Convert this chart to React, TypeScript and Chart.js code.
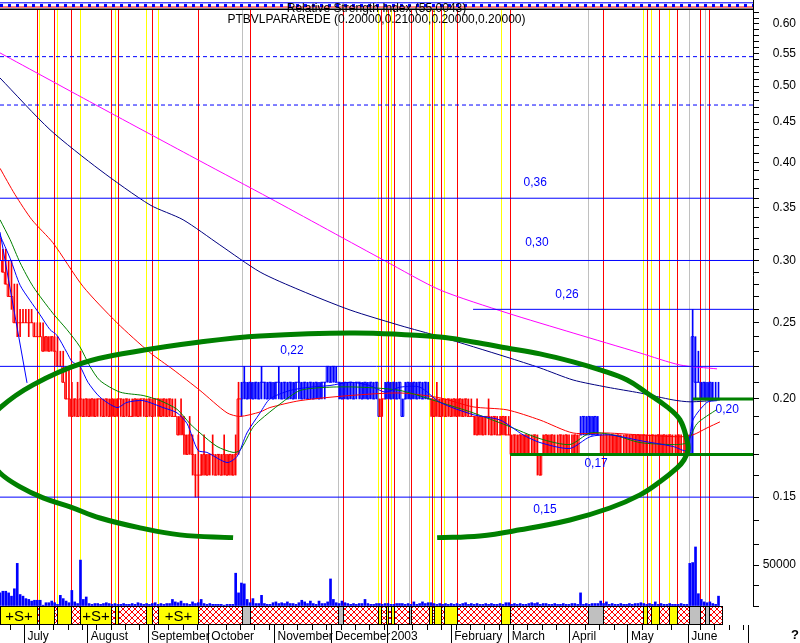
import React, { useEffect, useRef } from 'react';
import { Chart, registerables } from 'chart.js';

Chart.register(...registerables);

const FONT = "'Liberation Sans', Arial, Helvetica, sans-serif";
const RED = '#FF0000';
const BLUE = '#0000FF';
const YELLOW = '#FFFF00';
const GRAY = '#C0C0C0';
const GREEN = '#008000';
const NAVY = '#000080';
const MAGENTA = '#FF00FF';

const X_MAX = 262;

// month starts on the trading-day axis
const monthDays = [8.5, 30.5, 51.5, 72.5, 95.5, 115.5, 135, 157, 177, 198, 218.5, 239.5, 260.5];
const monthLabels = ['July', 'August', 'September', 'October', 'November', 'December', '2003', 'February', 'March', 'April', 'May', 'June', ''];

// daily price bars, in cents
const priceHighC = [
  32, 31, 31, 30, 30, 28, 28, 26, 26, 26,
  26, 26, 25, 25, 25, 25, 24, 24, 24, 24,
  24, 23, 23, 22, 22, 21, 20, 21, 23, 20,
  20, 20, 20, 20, 20, 20, 20, 20, 20, 20,
  20, 20, 20, 20, 20, 20, 20, 20, 20, 20,
  20, 20, 20, 20, 20, 20, 20, 20, 20, 20,
  20, 20, 19, 20, 19, 18, 19, 18, 17, 18,
  17, 18, 17, 17, 18, 17, 17, 17, 18, 17,
  17, 17, 18, 21, 21, 22, 21, 21, 21, 21,
  21, 22, 21, 21, 21, 21, 21, 22, 21, 21,
  21, 21, 21, 21, 22, 21, 21, 21, 21, 21,
  21, 21, 21, 21, 22, 22, 22, 22, 21, 21,
  21, 21, 21, 21, 21, 21, 21, 21, 21, 21,
  21, 21, 20, 20, 21, 21, 21, 21, 21, 21,
  20, 21, 21, 21, 21, 21, 21, 21, 21, 21,
  20, 20, 21, 20, 20, 20, 20, 20, 20, 20,
  20, 20, 20, 20, 20, 19, 20, 19, 19, 19,
  20, 19, 19, 19, 19, 19, 19, 19, 18, 18,
  18, 18, 18, 18, 18, 18, 18, 18, 17, 18,
  18, 18, 18, 18, 18, 18, 18, 18, 18, 18,
  18, 18, 19, 19, 19, 19, 19, 19, 19, 18,
  18, 18, 18, 18, 18, 18, 18, 18, 18, 18,
  18, 18, 18, 18, 18, 18, 18, 18, 18, 18,
  18, 18, 18, 18, 18, 18, 18, 18, 18, 18,
  18, 26, 24, 23, 21, 21, 21, 21, 21, 21, 21,
];
const priceLowC = [
  30, 29, 28, 27, 26, 25, 24, 24, 25, 25,
  24, 25, 24, 24, 24, 23, 23, 23, 23, 23,
  22, 22, 21, 20, 19, 19, 19, 19, 19, 19,
  19, 19, 19, 19, 19, 19, 19, 19, 19, 19,
  19, 19, 19, 19, 19, 19, 19, 19, 19, 19,
  19, 19, 19, 19, 19, 19, 19, 19, 19, 19,
  19, 19, 18, 18, 17, 17, 17, 16, 15, 15,
  16, 16, 16, 16, 16, 16, 16, 16, 16, 16,
  16, 16, 16, 17, 19, 20, 20, 20, 20, 20,
  20, 20, 20, 20, 20, 20, 20, 20, 20, 20,
  20, 20, 20, 20, 20, 20, 20, 20, 20, 20,
  20, 20, 20, 20, 21, 21, 21, 21, 20, 20,
  20, 20, 20, 20, 20, 20, 20, 20, 20, 20,
  20, 20, 19, 19, 20, 20, 20, 20, 20, 20,
  19, 20, 20, 20, 20, 20, 20, 20, 20, 20,
  19, 19, 19, 19, 19, 19, 19, 19, 19, 19,
  19, 19, 19, 19, 19, 18, 18, 18, 18, 18,
  18, 18, 18, 18, 18, 18, 18, 18, 17, 17,
  17, 17, 17, 17, 17, 17, 17, 16, 16, 17,
  17, 17, 17, 17, 17, 17, 17, 17, 17, 17,
  17, 17, 18, 18, 18, 18, 18, 18, 18, 17,
  17, 17, 17, 17, 17, 17, 17, 17, 17, 17,
  17, 17, 17, 17, 17, 17, 17, 17, 17, 17,
  17, 17, 17, 17, 17, 17, 17, 17, 17, 17,
  17, 17, 20, 21, 20, 20, 20, 20, 20, 20, 20,
];
const priceCloseC = [
  30, 29, 28, 27, 27, 25, 25, 25, 25, 25,
  25, 25, 24, 24, 24, 23, 24, 23, 24, 23,
  22, 22, 21, 20, 20, 19, 20, 19, 20, 19,
  20, 19, 20, 19, 20, 20, 19, 20, 19, 20,
  19, 20, 20, 19, 20, 19, 19, 20, 19, 20,
  20, 19, 20, 19, 20, 20, 19, 20, 19, 20,
  19, 19, 18, 19, 18, 17, 18, 17, 16, 16,
  16, 17, 16, 17, 17, 16, 17, 16, 17, 16,
  17, 16, 17, 20, 20, 21, 20, 21, 20, 21,
  20, 21, 21, 20, 21, 20, 21, 21, 20, 21,
  20, 21, 20, 21, 21, 20, 21, 20, 21, 20,
  21, 20, 21, 21, 22, 21, 22, 21, 21, 20,
  21, 20, 21, 20, 21, 21, 20, 21, 20, 21,
  20, 21, 19, 20, 20, 21, 20, 21, 20, 21,
  19, 20, 21, 20, 21, 20, 21, 20, 21, 20,
  20, 19, 20, 19, 20, 19, 20, 19, 20, 19,
  20, 19, 20, 19, 19, 19, 18, 19, 18, 19,
  19, 18, 19, 18, 18, 19, 18, 18, 17, 18,
  17, 18, 17, 18, 17, 17, 18, 17, 16, 17,
  18, 17, 18, 17, 17, 18, 17, 18, 17, 17,
  18, 17, 18, 19, 18, 19, 18, 19, 18, 18,
  17, 18, 17, 18, 17, 18, 17, 17, 18, 17,
  18, 17, 18, 17, 18, 17, 17, 18, 17, 18,
  17, 18, 17, 18, 17, 17, 18, 17, 17, 18,
  17, 24, 21, 21, 20, 21, 20, 21, 20, 20, 20,
];
// runs of days where bars are drawn blue
const upRunStart = [84, 134, 202, 240];
const upRunEnd = [131, 149, 208, 250];

// daily volume, thousands of shares
const volumeK = [
  16, 18, 18, 16, 12, 21, 52, 14, 12, 9,
  8, 6, 7, 7, 7, 1, 4, 4, 6, 4,
  2, 13, 9, 6, 4, 19, 5, 3, 56, 8,
  11, 3, 2, 3, 3, 2, 3, 4, 3, 2,
  3, 2, 2, 3, 2, 2, 3, 2, 4, 3,
  2, 3, 2, 3, 4, 2, 3, 2, 3, 3,
  8, 5, 4, 6, 3, 3, 2, 5, 3, 4,
  8, 3, 2, 3, 2, 2, 2, 2, 1, 2,
  2, 2, 40, 16, 28, 27, 8, 4, 9, 3,
  3, 13, 3, 2, 2, 4, 5, 3, 4, 3,
  5, 3, 3, 2, 4, 7, 5, 3, 6, 3,
  2, 6, 3, 3, 5, 33, 8, 4, 3, 6,
  4, 3, 2, 3, 2, 3, 3, 8, 3, 2,
  2, 3, 3, 2, 3, 3, 2, 2, 3, 3,
  3, 2, 3, 2, 5, 2, 3, 5, 3, 4,
  4, 3, 2, 3, 2, 3, 2, 3, 2, 3,
  2, 3, 4, 2, 3, 2, 3, 2, 2, 3,
  2, 3, 2, 2, 3, 2, 4, 4, 2, 3,
  2, 3, 2, 2, 3, 4, 3, 4, 2, 3,
  3, 2, 2, 3, 2, 2, 3, 2, 2, 3,
  3, 2, 16, 2, 3, 2, 3, 3, 3, 6,
  3, 5, 2, 3, 2, 2, 3, 2, 2, 3,
  2, 3, 3, 4, 3, 2, 3, 2, 5, 2,
  3, 2, 2, 3, 2, 2, 2, 3, 2, 2,
  52, 53, 72, 15, 8, 5, 4, 5, 3, 2, 12,
];

// moving averages (day, price)
const maShortDays = [0, 3.5, 7, 10.4, 13.9, 17.4, 19.8, 23.3, 25.1, 27.8, 30.6, 34.8, 40.7, 44.2, 49.8, 56.7, 61.6, 65.1, 68.9, 72, 79, 82.5, 85.9, 90.5, 93.9, 100.9, 107.9, 114.8, 121.8, 128.7, 134, 139.2, 146.1, 153.1, 164.6, 174, 182, 187.9, 198.3, 205.3, 212.2, 222.7, 234.2, 239, 241.1, 246, 249.5];
const maShortVals = [0.323, 0.302, 0.279, 0.267, 0.256, 0.245, 0.241, 0.229, 0.223, 0.220, 0.210, 0.201, 0.195, 0.198, 0.199, 0.195, 0.192, 0.186, 0.172, 0.171, 0.166, 0.169, 0.181, 0.192, 0.200, 0.205, 0.207, 0.208, 0.210, 0.208, 0.204, 0.207, 0.207, 0.198, 0.191, 0.188, 0.180, 0.176, 0.173, 0.179, 0.180, 0.177, 0.174, 0.172, 0.188, 0.198, 0.199];
const maMidDays = [0, 3.5, 7, 11.5, 18.4, 23.3, 27.8, 31.3, 34.8, 41.8, 49.8, 55.7, 61.6, 66.1, 69.6, 75.5, 81.1, 83.5, 88, 90.5, 97.4, 104.4, 114.8, 125.3, 139.2, 153.1, 164.6, 176.4, 187.9, 198.3, 205.3, 213.3, 222.7, 234.2, 239, 242.5, 249.5];
const maMidVals = [0.338, 0.319, 0.298, 0.278, 0.257, 0.245, 0.233, 0.220, 0.211, 0.204, 0.202, 0.199, 0.194, 0.186, 0.181, 0.174, 0.171, 0.172, 0.184, 0.188, 0.197, 0.205, 0.207, 0.207, 0.205, 0.198, 0.192, 0.185, 0.178, 0.175, 0.181, 0.180, 0.176, 0.175, 0.176, 0.186, 0.194];
const maLongDays = [0, 5.2, 11.1, 18.4, 28.9, 40.7, 52.2, 60.2, 69.6, 79, 83.5, 90.5, 93.9, 104.4, 121.8, 139.2, 153.1, 164.6, 176.4, 187.9, 199.4, 211.2, 222.7, 236.6, 241.1, 246, 250.5];
const maLongVals = [0.393, 0.364, 0.338, 0.316, 0.278, 0.250, 0.229, 0.218, 0.205, 0.192, 0.190, 0.1925, 0.195, 0.199, 0.202, 0.2035, 0.2006, 0.1954, 0.1937, 0.188, 0.181, 0.181, 0.180, 0.179, 0.180, 0.1837, 0.187];
const navyDays = [0, 17.4, 34.8, 52.2, 63.7, 76.5, 90.5, 104.4, 121.8, 139.2, 153.1, 176.4, 187.9, 199.4, 211.2, 222.7, 234.2, 240.1, 250.5];
const navyVals = [0.512, 0.440, 0.391, 0.353, 0.338, 0.314, 0.290, 0.275, 0.2595, 0.248, 0.240, 0.226, 0.219, 0.2114, 0.207, 0.2035, 0.1994, 0.1983, 0.1994];
const magentaDays = [0, 34.8, 69.6, 93.9, 134, 153.1, 176.4, 199.4, 222.7, 236.6, 249.5];
const magentaVals = [0.551, 0.470, 0.4015, 0.360, 0.2996, 0.2752, 0.2573, 0.2426, 0.2288, 0.2209, 0.2184];
const trendDays = [0, 9.4];
const trendVals = [0.326, 0.2096];

// hand-drawn green ellipse (day, price)
const ellipseUpperDays = [-10, 0, 11.5, 28.9, 46.3, 69.6, 90.5, 123.5, 153.1, 164.6, 176.4, 187.9, 199.4, 208.8, 218.2, 225.1, 232.1, 236.6, 239.0, 239.4, 238.0, 235.6, 229.6, 222.7, 212.2, 198.3, 180.9, 167.0, 152.1];
const ellipseUpperVals = [0.1774, 0.1948, 0.2084, 0.2222, 0.2295, 0.2363, 0.2405, 0.2426, 0.2398, 0.2363, 0.2322, 0.2282, 0.2229, 0.2177, 0.2114, 0.2035, 0.1954, 0.1881, 0.1774, 0.1723, 0.1673, 0.1634, 0.1569, 0.1510, 0.1453, 0.1403, 0.1363, 0.1339, 0.1332];
const ellipseLowerDays = [-10, 0, 7, 15, 24.4, 34.8, 48.7, 62.6, 81.1];
const ellipseLowerVals = [0.1774, 0.1610, 0.1546, 0.1497, 0.1458, 0.1411, 0.1371, 0.1343, 0.1332];

// horizontal levels
const blueLevels = [0.36, 0.30, 0.26, 0.22, 0.15];
const blueLevelFrom = [0, 0, 164.6, 0, 0];
const greenLevels = [0.20, 0.17];
const greenLevelFrom = [241, 177.5];
const dashedLevels = [0.545, 0.473];

const levelLabelText = ['0,36', '0,30', '0,26', '0,22', '0,20', '0,17', '0,15'];
const levelLabelDay = [186.2, 186.8, 197.3, 101.6, 253, 207.4, 189.6];
const levelLabelPrice = [0.3765, 0.3158, 0.2712, 0.2302, 0.1937, 0.1653, 0.1445];

// RSI strip levels
const rsiLevels = [72, 45, 30, 6];

// event markers (trading-day positions)
const redLines = [13, 18.9, 24.8, 38.7, 41.2, 53, 69, 87.1, 119.5, 132.5, 134.9, 137.2, 143, 150.3, 153.4, 159.1, 177.6, 209.9, 225, 229.4, 235.7, 243.6, 246.8];
const yellowLines = [13.7, 19.9, 27.9, 40.1, 50.9, 55.1, 131.4, 134.3, 136.2, 149.4, 151, 154.6, 174.4, 223.8, 226.6, 232.9];
const grayLines = [84.3, 117.5, 142.4, 204.7, 239.8, 245.2];

// signal band
const bandEdges = [0, 13, 13.7, 18.9, 19.9, 24.8, 27.9, 38.7, 40.1, 41.2, 50.9, 53, 55.1, 69, 84.3, 87.1, 117.5, 119.5, 131.4, 132.5, 134.3, 134.9, 136.2, 137.2, 142.4, 143, 149.4, 150.3, 151, 153.4, 154.6, 159.1, 174.4, 177.6, 204.7, 209.9, 223.8, 225, 226.6, 229.4, 232.9, 235.7, 239.8, 243.6, 245.2, 246.8, 251.3];
const bandKinds = 'SXYXYXSXYXYXSXGXGXYXYXYXGXYXYXYXYXGXYXYXYXGXGX';

const titleRsi = 'Relative Strength Index (55.0043)';
const titleMain = 'PTBVLPARAREDE (0.20000,0.21000,0.20000,0.20000)';

const priceTicks = [0.14, 0.15, 0.16, 0.17, 0.18, 0.19, 0.20, 0.21, 0.22, 0.23, 0.24, 0.25, 0.26, 0.27, 0.28, 0.29, 0.30, 0.31, 0.32, 0.33, 0.34, 0.35, 0.36, 0.37, 0.38, 0.39, 0.40, 0.41, 0.42, 0.43, 0.44, 0.45, 0.46, 0.47, 0.48, 0.49, 0.50, 0.51, 0.52, 0.53, 0.54, 0.55, 0.56, 0.57, 0.58, 0.59, 0.60, 0.61, 0.62];
const volumeTicks = [0, 25000, 50000, 75000];

function makeHatch(): CanvasPattern | string {
  const c = document.createElement('canvas');
  c.width = 6;
  c.height = 6;
  const p = c.getContext('2d');
  if (!p) return '#fff';
  p.fillStyle = '#FFFFFF';
  p.fillRect(0, 0, 6, 6);
  p.strokeStyle = RED;
  p.lineWidth = 1;
  p.beginPath();
  p.moveTo(0, 0);
  p.lineTo(6, 6);
  p.moveTo(6, 0);
  p.lineTo(0, 6);
  p.stroke();
  return p.createPattern(c, 'repeat') || '#fff';
}

export default function App() {
  const ref = useRef<HTMLCanvasElement>(null);

  useEffect(() => {
    const canvas = ref.current;
    if (!canvas) return;
    const hatch = makeHatch();
    const days = priceHighC.map((_, i) => i);
    const isUp = (i: number) => upRunStart.some((s, k) => i >= s && i <= upRunEnd[k]);
    const barColors = days.map((i) => (isUp(i) ? BLUE : RED));
    const pts = (xs: number[], ys: number[]) => xs.map((x, i) => ({ x, y: ys[i] }));
    const line = (label: string, data: any[], color: string, width: number, extra: any = {}) => ({
      type: 'line', label, data, borderColor: color, backgroundColor: color, borderWidth: width,
      pointRadius: 0, fill: false, xAxisID: 'x', yAxisID: 'yP', ...extra,
    });

    const datasets: any[] = [
      line('ellipseUpper', pts(ellipseUpperDays, ellipseUpperVals), GREEN, 5, { tension: 0.4 }),
      line('ellipseLower', pts(ellipseLowerDays, ellipseLowerVals), GREEN, 5, { tension: 0.4 }),
      ...greenLevels.map((v, i) => line('green' + i, [{ x: greenLevelFrom[i], y: v }, { x: X_MAX, y: v }], GREEN, 3)),
      ...blueLevels.map((v, i) => line('blue' + i, [{ x: blueLevelFrom[i], y: v }, { x: X_MAX, y: v }], BLUE, 1)),
      ...dashedLevels.map((v, i) => line('dash' + i, [{ x: 0, y: v }, { x: X_MAX, y: v }], BLUE, 1, { borderDash: [4, 3] })),
      line('maShort', pts(maShortDays, maShortVals), BLUE, 1, { tension: 0.25 }),
      line('trend', pts(trendDays, trendVals), BLUE, 1),
      line('maMid', pts(maMidDays, maMidVals), GREEN, 1, { tension: 0.25 }),
      line('maLong', pts(maLongDays, maLongVals), RED, 1, { tension: 0.25 }),
      line('maNavy', pts(navyDays, navyVals), NAVY, 1, { tension: 0.25 }),
      line('maMagenta', pts(magentaDays, magentaVals), MAGENTA, 1, { tension: 0.25 }),
      line('close', days.map((d) => ({ x: d, y: priceCloseC[d] / 100 })), RED, 1, {
        stepped: 'middle',
        segment: { borderColor: (c: any) => barColors[c.p0DataIndex] },
      }),
      {
        type: 'bar', label: 'range', xAxisID: 'x', yAxisID: 'yP', grouped: false,
        data: days.map((d) => ({ x: d, y: [priceLowC[d] / 100, priceHighC[d] / 100] })),
        backgroundColor: barColors, borderWidth: 0, barThickness: 1,
      },
      {
        type: 'bar', label: 'volume', xAxisID: 'x', yAxisID: 'yV', grouped: false,
        data: days.map((d) => ({ x: d, y: volumeK[d] * 1000 })),
        backgroundColor: BLUE, borderWidth: 0, barThickness: 2,
      },
      ...rsiLevels.map((v, i) => ({
        type: 'line', label: 'rsi' + i, xAxisID: 'x', yAxisID: 'yR', pointRadius: 0,
        data: [{ x: 0, y: v }, { x: X_MAX, y: v }],
        borderColor: i === 2 ? RED : i === 3 ? '#000000' : BLUE,
        borderWidth: i === 1 ? 3 : i === 3 ? 2 : 1,
        borderDash: i === 1 ? [3, 5] : [],
      })),
    ];

    const decor = {
      id: 'decor',
      beforeDatasetsDraw(chart: any) {
        const { ctx, scales } = chart;
        const xs = scales.x, yP = scales.yP, yV = scales.yV, yB = scales.yB;
        ctx.save();
        const vline = (arr: number[], color: string) => {
          ctx.strokeStyle = color;
          ctx.lineWidth = 1;
          arr.forEach((d) => {
            const px = Math.round(xs.getPixelForValue(d)) + 0.5;
            ctx.beginPath();
            ctx.moveTo(px, yP.top);
            ctx.lineTo(px, yV.bottom);
            ctx.stroke();
          });
        };
        vline(grayLines, GRAY);
        vline(yellowLines, YELLOW);
        vline(redLines, RED);
        // signal band
        const top = Math.round(yB.top) + 0.5;
        const bot = Math.round(yB.bottom) - 0.5;
        for (let i = 0; i < bandKinds.length; i++) {
          const k = bandKinds[i];
          const x0 = Math.round(xs.getPixelForValue(bandEdges[i])) + 0.5;
          const x1 = Math.round(xs.getPixelForValue(bandEdges[i + 1])) + 0.5;
          ctx.fillStyle = k === 'X' ? hatch : k === 'G' ? GRAY : YELLOW;
          ctx.fillRect(x0, top, x1 - x0, bot - top);
          ctx.strokeStyle = '#000000';
          ctx.lineWidth = 1;
          ctx.strokeRect(x0, top, x1 - x0, bot - top);
          if (k === 'S') {
            ctx.fillStyle = '#000000';
            ctx.font = `15px ${FONT}`;
            ctx.textAlign = 'center';
            ctx.textBaseline = 'middle';
            ctx.fillText('+S+', (x0 + x1) / 2, (top + bot) / 2 + 1);
          }
        }
        ctx.restore();
      },
      afterDatasetsDraw(chart: any) {
        const { ctx, scales } = chart;
        const xs = scales.x, yP = scales.yP;
        ctx.save();
        ctx.font = `12px ${FONT}`;
        ctx.fillStyle = BLUE;
        ctx.textAlign = 'center';
        ctx.textBaseline = 'middle';
        levelLabelText.forEach((t, i) => {
          ctx.fillText(t, xs.getPixelForValue(levelLabelDay[i]), yP.getPixelForValue(levelLabelPrice[i]));
        });
        ctx.restore();
      },
      afterDraw(chart: any) {
        const { ctx, scales, chartArea, width } = chart;
        const xs = scales.x, yP = scales.yP;
        ctx.save();
        // weekly minor ticks
        ctx.strokeStyle = '#000000';
        ctx.lineWidth = 1;
        for (let d = 3.5; d < X_MAX; d += 5) {
          if (monthDays.some((m) => Math.abs(m - d) < 1.5)) continue;
          const px = Math.round(xs.getPixelForValue(d)) + 0.5;
          ctx.beginPath();
          ctx.moveTo(px, xs.top);
          ctx.lineTo(px, xs.top + 5);
          ctx.stroke();
        }
        // titles
        const cx = (chartArea.left + chartArea.right) / 2;
        ctx.fillStyle = '#000000';
        ctx.textAlign = 'center';
        ctx.textBaseline = 'middle';
        ctx.font = `12px ${FONT}`;
        ctx.fillText(titleRsi, cx, yP.top - 1);
        ctx.fillText(titleMain, cx, yP.top + 10);
        ctx.font = `bold 13px ${FONT}`;
        ctx.textAlign = 'right';
        ctx.fillText('?', width - 1, xs.top + 10);
        ctx.restore();
      },
    };

    const axisFit = (s: any) => {
      s.width = 43;
      s.paddingTop = 0;
      s.paddingBottom = 0;
      s.paddingLeft = 0;
      s.paddingRight = 0;
    };

    const chart = new Chart(canvas, {
      type: 'bar',
      data: { datasets },
      plugins: [decor],
      options: {
        animation: false,
        responsive: false,
        devicePixelRatio: 1,
        events: [],
        layout: { padding: { left: 0, right: 4, top: 0, bottom: 0 }, autoPadding: false },
        plugins: { legend: { display: false }, tooltip: { enabled: false }, title: { display: false } },
        scales: {
          x: {
            type: 'linear', position: 'bottom', min: 0, max: X_MAX, offset: false,
            afterBuildTicks: (s: any) => { s.ticks = monthDays.map((v) => ({ value: v })); },
            afterFit: (s: any) => {
              s.height = 18;
              s.paddingLeft = 0;
              s.paddingRight = 0;
              s.paddingTop = 0;
              s.paddingBottom = 0;
            },
            ticks: {
              autoSkip: false, maxRotation: 0, minRotation: 0, align: 'start', padding: -14, labelOffset: 3,
              color: '#000000', font: { family: FONT, size: 12 },
              callback: (_v: any, i: number) => monthLabels[i],
            },
            grid: { drawOnChartArea: false, offset: false, tickLength: 18, color: '#000000', lineWidth: 1 },
            border: { display: false },
          },
          yR: {
            type: 'linear', position: 'right', stack: 'r', stackWeight: 10, weight: 1, min: 0, max: 100,
            afterFit: axisFit,
            ticks: { display: false },
            grid: { display: false },
            border: { display: true, color: '#000000' },
          },
          yP: {
            type: 'logarithmic', position: 'right', stack: 'r', stackWeight: 530, weight: 2, min: 0.1323, max: 0.6248,
            afterFit: axisFit,
            afterBuildTicks: (s: any) => { s.ticks = priceTicks.map((v) => ({ value: v })); },
            ticks: {
              autoSkip: false, crossAlign: 'far', padding: 13, color: '#000000', font: { family: FONT, size: 12 },
              callback: (v: any) => (Math.round(Number(v) * 100) % 5 === 0 ? Number(v).toFixed(2) : ''),
            },
            grid: { drawOnChartArea: false, tickLength: 6, color: '#000000' },
            border: { display: true, color: '#000000' },
          },
          yV: {
            type: 'linear', position: 'right', stack: 'r', stackWeight: 66, weight: 3, min: 0, max: 80500,
            afterFit: axisFit,
            afterBuildTicks: (s: any) => { s.ticks = volumeTicks.map((v) => ({ value: v })); },
            ticks: {
              autoSkip: false, crossAlign: 'far', padding: 4, color: '#000000', font: { family: FONT, size: 12 },
              callback: (v: any) => (Number(v) === 50000 ? '50000' : ''),
            },
            grid: { drawOnChartArea: false, tickLength: 6, color: '#000000' },
            border: { display: true, color: '#000000' },
          },
          yB: {
            type: 'linear', position: 'right', stack: 'r', stackWeight: 19, weight: 4, min: 0, max: 1,
            afterFit: axisFit,
            ticks: { display: false },
            grid: { display: false },
            border: { display: false },
          },
        },
      } as any,
    });
    return () => chart.destroy();
  }, []);

  return (
    <div style={{ position: 'fixed', left: 0, top: 0, width: 800, height: 643, background: '#FFFFFF' }}>
      <canvas ref={ref} width={800} height={643} style={{ display: 'block' }} />
    </div>
  );
}
